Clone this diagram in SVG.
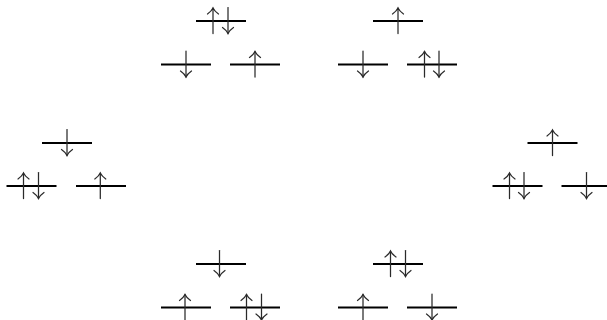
<svg xmlns="http://www.w3.org/2000/svg" xmlns:xlink="http://www.w3.org/1999/xlink" width="607" height="320" viewBox="0 0 607 320">
<style>
.lv{stroke:#000;stroke-width:1.8;fill:none}
.ar{stroke:#2a2a2a;stroke-width:1.25;fill:none;stroke-linecap:round}
</style>
<defs>
<line id="lvl" class="lv" x1="-25" y1="0" x2="25" y2="0"/>
<g id="up" class="ar"><path d="M0,12.5 V-13"/><path d="M-5.5,-7 Q-1.5,-9.8 0,-13 Q1.5,-9.8 5.5,-7"/></g>
<g id="dn" class="ar"><path d="M0,-13.5 V12.5"/><path d="M-5.5,6.5 Q-1.5,9.3 0,12.5 Q1.5,9.3 5.5,6.5"/></g>
</defs>
<rect width="607" height="320" fill="#fff"/>
<g id="connectors"/>
<g id="config-top-left">
  <g transform="translate(221,21)"><use href="#lvl"/><use href="#up" x="-8"/><use href="#dn" x="7"/></g>
  <g transform="translate(186,64.5)"><use href="#lvl"/><use href="#dn"/></g>
  <g transform="translate(255,64.5)"><use href="#lvl"/><use href="#up"/></g>
</g>
<g id="config-top-right">
  <g transform="translate(398,21)"><use href="#lvl"/><use href="#up"/></g>
  <g transform="translate(363,64.5)"><use href="#lvl"/><use href="#dn"/></g>
  <g transform="translate(432,64.5)"><use href="#lvl"/><use href="#up" x="-7.5"/><use href="#dn" x="7"/></g>
</g>
<g id="config-left">
  <g transform="translate(67,143)"><use href="#lvl"/><use href="#dn"/></g>
  <g transform="translate(31.5,186)"><use href="#lvl"/><use href="#up" x="-8"/><use href="#dn" x="7"/></g>
  <g transform="translate(101,186)"><use href="#lvl"/><use href="#up" x="-0.7"/></g>
</g>
<g id="config-right">
  <g transform="translate(552.5,143)"><use href="#lvl"/><use href="#up"/></g>
  <g transform="translate(517.5,186)"><use href="#lvl"/><use href="#up" x="-8"/><use href="#dn" x="6.5"/></g>
  <g transform="translate(586.5,186)"><use href="#lvl"/><use href="#dn"/></g>
</g>
<g id="config-bottom-left">
  <g transform="translate(221,264)"><use href="#lvl"/><use href="#dn" x="-1.5"/></g>
  <g transform="translate(186,307.5)"><use href="#lvl"/><use href="#up" x="-1"/></g>
  <g transform="translate(255,307.5)"><use href="#lvl"/><use href="#up" x="-8.5"/><use href="#dn" x="6.5"/></g>
</g>
<g id="config-bottom-right">
  <g transform="translate(398,264)"><use href="#lvl"/><use href="#up" x="-7.5"/><use href="#dn" x="7.5"/></g>
  <g transform="translate(363,307.5)"><use href="#lvl"/><use href="#up"/></g>
  <g transform="translate(432,307.5)"><use href="#lvl"/><use href="#dn"/></g>
</g>
</svg>
